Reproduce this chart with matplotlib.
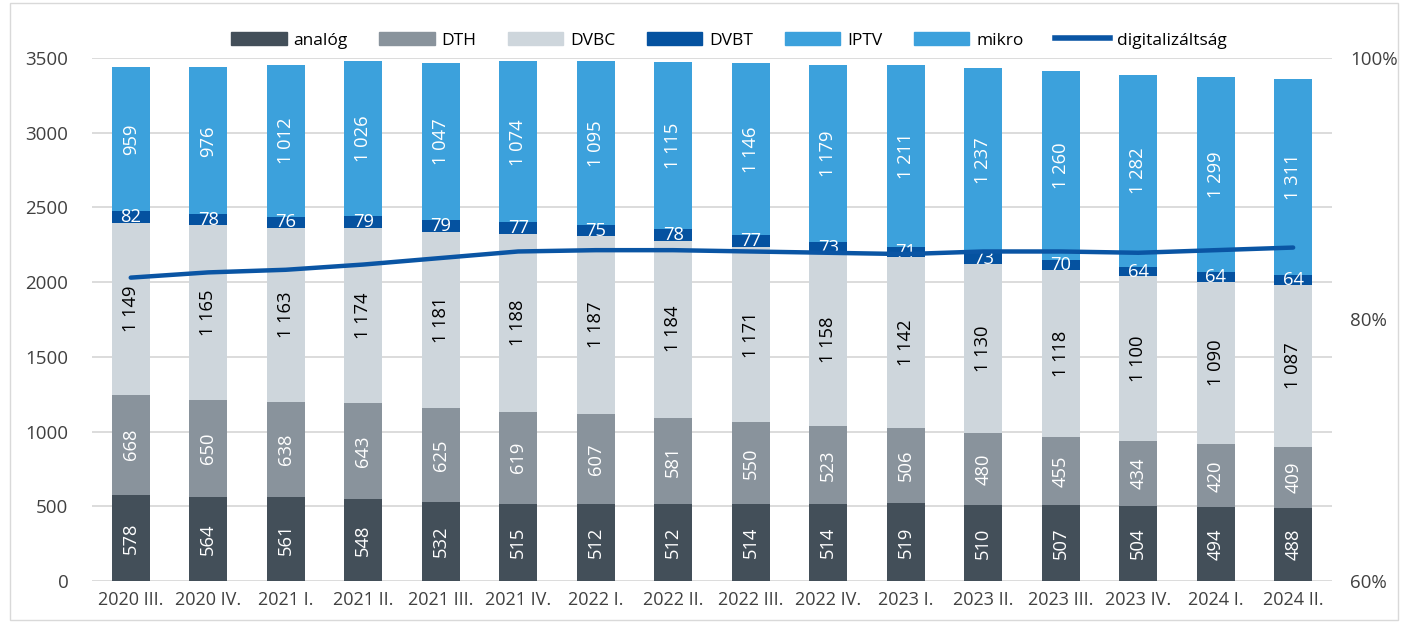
import matplotlib
matplotlib.use("Agg")
import matplotlib.pyplot as plt
from matplotlib.patches import Rectangle
from matplotlib.lines import Line2D

categories = ["2020 III.", "2020 IV.", "2021 I.", "2021 II.", "2021 III.", "2021 IV.",
              "2022 I.", "2022 II.", "2022 III.", "2022 IV.", "2023 I.", "2023 II.",
              "2023 III.", "2023 IV.", "2024 I.", "2024 II."]
analog = [578, 564, 561, 548, 532, 515, 512, 512, 514, 514, 519, 510, 507, 504, 494, 488]
dth = [668, 650, 638, 643, 625, 619, 607, 581, 550, 523, 506, 480, 455, 434, 420, 409]
dvbc = [1149, 1165, 1163, 1174, 1181, 1188, 1187, 1184, 1171, 1158, 1142, 1130, 1118, 1100, 1090, 1087]
dvbt = [82, 78, 76, 79, 79, 77, 75, 78, 77, 73, 71, 73, 70, 64, 64, 64]
iptv = [959, 976, 1012, 1026, 1047, 1074, 1095, 1115, 1146, 1179, 1211, 1237, 1260, 1282, 1299, 1311]
mikro = [6, 8, 5, 7, 5, 5, 5, 5, 5, 5, 5, 5, 5, 5, 3, 2]
digital = [83.2, 83.6, 83.8, 84.2, 84.7, 85.2, 85.3, 85.3, 85.2, 85.1, 85.0, 85.2, 85.2, 85.1, 85.3, 85.5]

series = [("analóg", analog, "#434f59", "white", True),
          ("DTH", dth, "#89939c", "white", True),
          ("DVBC", dvbc, "#ced6dc", "black", True),
          ("DVBT", dvbt, "#0552a0", "white", False),
          ("IPTV", iptv, "#3ca1dc", "white", True),
          ("mikro", mikro, "#3ca1dc", None, None)]

FONT = ["Open Sans", "DejaVu Sans"]
plt.rcParams["font.family"] = FONT

fig = plt.figure(figsize=(14.02, 6.23), dpi=100)
ax = fig.add_axes([0.0656, 0.0674, 0.8844, 0.8396])
x = list(range(len(categories)))
bottom = [0] * len(categories)
handles = []
for name, vals, col, tcol, rot in series:
    ax.bar(x, vals, 0.49, bottom=bottom, color=col, zorder=2)
    if tcol is not None:
        for i, v in enumerate(vals):
            s = f"{v:,}".replace(",", " ")
            ax.text(i, bottom[i] + v / 2, s, ha="center", va="center",
                    rotation=90 if rot else 0, color=tcol, fontsize=13.2, zorder=4)
    bottom = [b + v for b, v in zip(bottom, vals)]
    handles.append(Rectangle((0, 0), 1, 1, color=col))

ax.set_ylim(0, 3500)
ax.set_xlim(-0.5, 15.5)
ax.set_yticks(range(0, 3501, 500))
ax.set_xticks(x)
ax.set_xticklabels(categories)
ax.grid(axis="y", color="#d9d9d9", linewidth=1.3, zorder=0)
ax.set_axisbelow(True)
for sp in ax.spines.values():
    sp.set_visible(False)
ax.tick_params(length=0, labelsize=13.5, colors="#404040")
ax.tick_params(axis="y", pad=17)
ax.tick_params(axis="x", pad=7, labelsize=13)

ax2 = ax.twinx()
ax2.plot(x, digital, color="#0a55a4", linewidth=3.2, solid_capstyle="round", zorder=5)
ax2.set_ylim(60, 100)
ax2.set_yticks([60, 80, 100])
ax2.set_yticklabels(["60%", "80%", "100%"])
for sp in ax2.spines.values():
    sp.set_visible(False)
ax2.tick_params(length=0, labelsize=13.5, colors="#404040", pad=13)

handles.append(Line2D([0], [0], color="#0a55a4", linewidth=4))
labels = [s[0] for s in series] + ["digitalizáltság"]
fig.legend(handles, labels, loc="center", bbox_to_anchor=(0.52, 0.935), ncol=7,
           frameon=False, fontsize=12.5, handlelength=3.2, handleheight=0.7,
           columnspacing=1.8, handletextpad=0.4)

fig.add_artist(Rectangle((0.007, 0.005), 0.99, 0.99, transform=fig.transFigure,
                         fill=False, edgecolor="#d9d9d9", linewidth=1))
fig.savefig("out.png", dpi=100)
